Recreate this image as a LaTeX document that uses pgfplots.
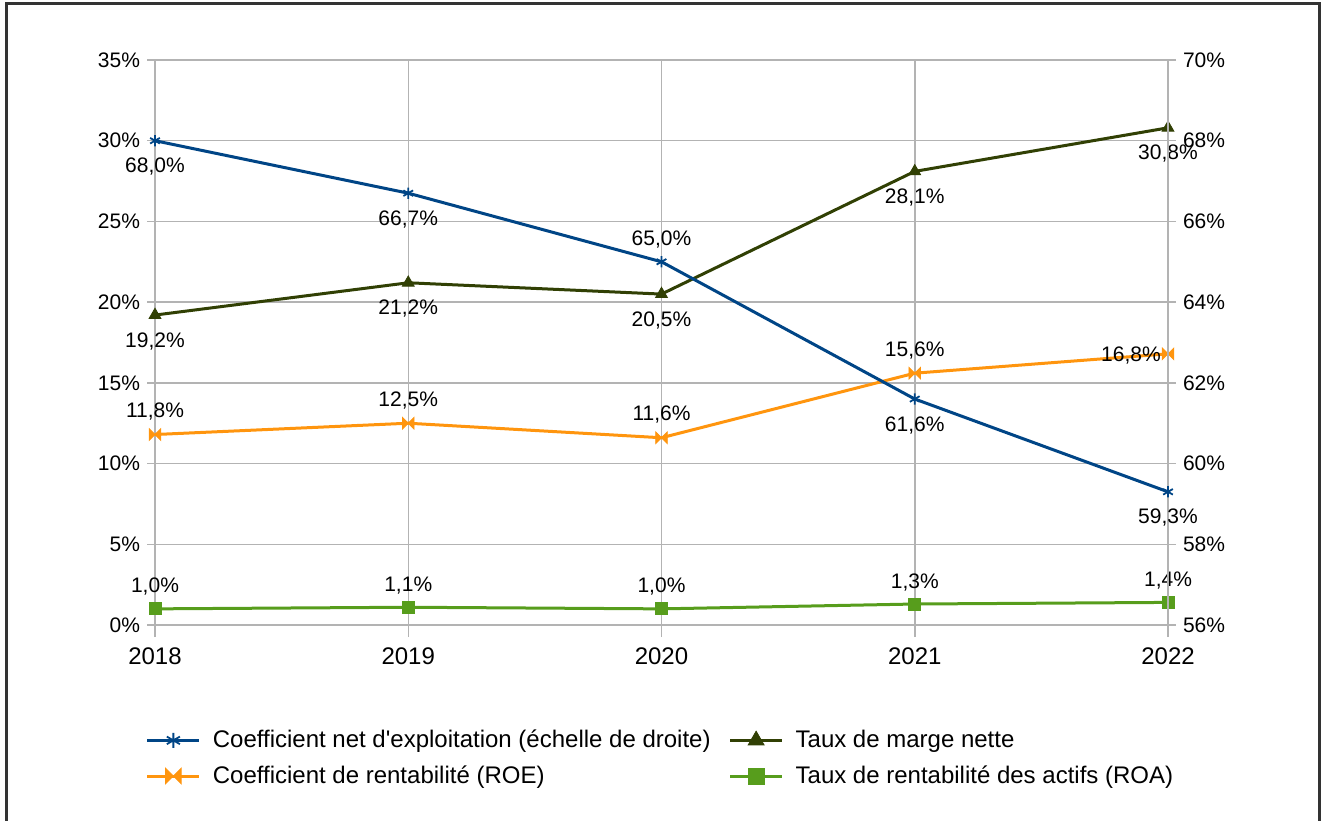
\documentclass[border=0pt]{standalone}
\usepackage{pgfplots}
\pgfplotsset{compat=1.18}
\usepackage{fontspec}
\setmainfont{Liberation Sans}
\definecolor{cblue}{HTML}{004586}
\definecolor{colive}{HTML}{314004}
\definecolor{corange}{HTML}{FF950E}
\definecolor{cgreen}{HTML}{579D1C}
\definecolor{cgrid}{HTML}{B3B3B3}
\pgfdeclareplotmark{bowtie}{%
  \pgfpathmoveto{\pgfqpoint{-\pgfplotmarksize}{\pgfplotmarksize}}%
  \pgfpathlineto{\pgfqpoint{\pgfplotmarksize}{-\pgfplotmarksize}}%
  \pgfpathlineto{\pgfqpoint{\pgfplotmarksize}{\pgfplotmarksize}}%
  \pgfpathlineto{\pgfqpoint{-\pgfplotmarksize}{-\pgfplotmarksize}}%
  \pgfpathclose\pgfusepathqfillstroke}
\pgfplotsset{
  sblue/.style={color=cblue, line width=1.5pt, mark=asterisk, mark size=2.8pt, mark options={solid, line width=0.9pt}},
  solive/.style={color=colive, line width=1.5pt, mark=triangle*, mark size=3.4pt, mark options={solid, line width=0.4pt}},
  sorange/.style={color=corange, line width=1.5pt, mark=bowtie, mark size=2.9pt, mark options={solid, line width=0.4pt}},
  sgreen/.style={color=cgreen, line width=1.5pt, mark=square*, mark size=3pt, mark options={solid, line width=0.4pt}},
  lab/.style={
    point meta=y,
    nodes near coords={\pgfmathprintnumber[fixed,fixed zerofill,precision=1,use comma]{\pgfplotspointmeta}\%},
    visualization depends on={\thisrow{dx}\as\labdx},
    visualization depends on={\thisrow{dy}\as\labdy},
    every node near coord/.append style={font=\fontsize{10.5}{12.6}\selectfont, text=black, inner sep=0pt, anchor=base, xshift=\labdx pt, yshift=\labdy pt},
  },
  common/.style={
    scale only axis, width=506.5pt, height=282.5pt,
    xmin=2018, xmax=2022,
    font=\fontsize{10.5}{12.6}\selectfont,
    /pgf/number format/assume math mode=true,
    tick align=outside, major tick length=4pt,
    tick style={cgrid, line width=0.75pt},
    axis line style={cgrid, line width=0.75pt},
  },
}
\pgfplotstableread{
x y dx dy
2018 68.0 0 -16
2019 66.7 0 -16
2020 65.0 0 8
2021 61.6 0 -16
2022 59.3 0 -16
}\tblue
\pgfplotstableread{
x y dx dy
2018 19.2 0 -16
2019 21.2 0 -16
2020 20.5 0 -16
2021 28.1 0 -16
2022 30.8 0 -16
}\tolive
\pgfplotstableread{
x y dx dy
2018 11.8 0 8.5
2019 12.5 0 8.5
2020 11.6 0 8.5
2021 15.6 0 8.5
2022 16.8 -18.5 -4
}\torange
\pgfplotstableread{
x y dx dy
2018 1.0 0 8
2019 1.1 0 8
2020 1.0 0 8
2021 1.3 0 8
2022 1.4 0 8
}\tgreen
\begin{document}
\begin{tikzpicture}
\useasboundingbox (-77.5pt,-97.5pt) rectangle (585pt,312.5pt);
\draw[line width=1.5pt, color=black!80] (-74pt,-110pt) -- (-74pt,310.8pt) -- (582.2pt,310.8pt) -- (582.2pt,-110pt);
\begin{axis}[common,
  ymin=0, ymax=35,
  ytick={0,5,...,35},
  yticklabel={\pgfmathprintnumber{\tick}\%},
  xtick={2018,2019,2020,2021,2022},
  xticklabel style={/pgf/number format/1000 sep={}, font=\fontsize{12}{14}\selectfont, yshift=-4pt},
  x tick style={/pgfplots/major tick length=6pt},
  grid=major, major grid style={cgrid, line width=0.75pt},
  axis y line*=left, axis x line*=bottom,
]
\addplot[solive, lab] table[x=x,y=y] {\tolive};
\addplot[sorange, lab] table[x=x,y=y] {\torange};
\addplot[sgreen, lab] table[x=x,y=y] {\tgreen};
\end{axis}
\begin{axis}[common,
  ymin=56, ymax=70,
  ytick={56,58,...,70},
  yticklabel={\pgfmathprintnumber{\tick}\%},
  axis y line*=right, axis x line=none,
  legend columns=2,
  legend style={draw=none, fill=none, at={(0.5,-0.171)}, anchor=north,
    font=\fontsize{12}{14}\selectfont,
    /tikz/every even column/.append style={column sep=7pt},
    /tikz/every odd column/.append style={column sep=4pt},
    row sep=3.5pt},
  legend cell align=left,
  legend image code/.code={\draw[mark repeat=2,mark phase=2,/tikz/every mark/.append style={scale=1.35}] plot coordinates {(0pt,0pt) (13pt,0pt) (26pt,0pt)};},
]
\addplot[sblue, lab, forget plot] table[x=x,y=y] {\tblue};
\addlegendimage{sblue}
\addlegendentry{Coefficient net d\textquotesingle exploitation (échelle de droite)}
\addlegendimage{solive}
\addlegendentry{Taux de marge nette}
\addlegendimage{sorange}
\addlegendentry{Coefficient de rentabilité (ROE)}
\addlegendimage{sgreen}
\addlegendentry{Taux de rentabilité des actifs (ROA)}
\end{axis}
\end{tikzpicture}
\end{document}
